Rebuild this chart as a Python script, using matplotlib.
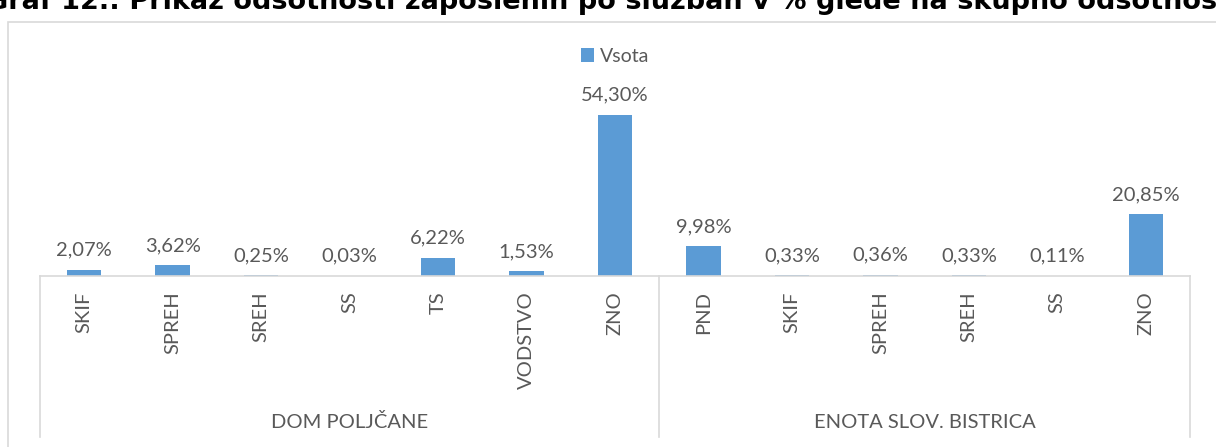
import matplotlib.pyplot as plt
from matplotlib.patches import Rectangle

plt.rcParams['font.family'] = ['Lato', 'DejaVu Sans']

groups = ['DOM POLJČANE', 'ENOTA SLOV. BISTRICA']
group_sizes = [7, 6]
categories = ['SKIF', 'SPREH', 'SREH', 'SS', 'TS', 'VODSTVO', 'ZNO',
              'PND', 'SKIF', 'SPREH', 'SREH', 'SS', 'ZNO']
values = [2.07, 3.62, 0.25, 0.03, 6.22, 1.53, 54.30,
          9.98, 0.33, 0.36, 0.33, 0.11, 20.85]

bar_color = '#5B9BD5'
text_color = '#595959'
line_color = '#D9D9D9'

fig = plt.figure(figsize=(12.16, 4.47), dpi=100)
W, H = 1216, 447

# chart frame (cropped on right/bottom)
fig.patches.append(Rectangle((8 / W, -0.1), 1.2, 1 - 22 / H + 0.1,
                             transform=fig.transFigure, fill=False,
                             edgecolor=line_color, lw=1.2))

# cropped title
fig.text(0.5, 1 - 1 / H, 'Graf 12.: Prikaz odsotnosti zaposlenih po službah v % glede na skupno odsotnost',
         ha='center', va='center', fontsize=19.5, fontweight='bold', color='black',
         family='DejaVu Sans')

ax = fig.add_axes([40 / W, 1 - 276 / H, (1190 - 40) / W, (276 - 98) / H])
x = list(range(len(categories)))
bars = ax.bar(x, values, width=0.39, color=bar_color, label='Vsota')
ax.set_xlim(-0.5, len(categories) - 0.5)
ax.set_ylim(0, 60)
ax.set_yticks([])
for s in ['top', 'right', 'left']:
    ax.spines[s].set_visible(False)
ax.spines['bottom'].set_color(line_color)
ax.spines['bottom'].set_linewidth(1.2)

for xi, v in zip(x, values):
    ax.annotate(f'{v:.2f}%'.replace('.', ','), (xi, v), xytext=(0, 8),
                textcoords='offset points', ha='center', va='bottom',
                fontsize=14.5, color=text_color)

ax.set_xticks(x)
ax.set_xticklabels(categories, rotation=90, fontsize=14.5, color=text_color, va='top')
ax.tick_params(axis='x', length=0, pad=11)

# group brackets
trans = ax.get_xaxis_transform()
depth = -(437 - 276) / (276 - 98)
edges = [-0.5]
for n in group_sizes:
    edges.append(edges[-1] + n)
for e in edges:
    ax.plot([e, e], [0, depth], transform=trans, color=line_color, lw=1.2, clip_on=False)
for i, g in enumerate(groups):
    mid = (edges[i] + edges[i + 1]) / 2
    ax.text(mid, -(422 - 276) / (276 - 98), g, transform=trans, ha='center', va='center',
            fontsize=14.5, color=text_color)

ax.legend(loc='upper center', bbox_to_anchor=(0.5, 1 + (98 - 30) / (276 - 98)),
          frameon=False, fontsize=14, labelcolor=text_color,
          handlelength=0.7, handleheight=0.7, handletextpad=0.3)

fig.savefig('out.png', dpi=100)
